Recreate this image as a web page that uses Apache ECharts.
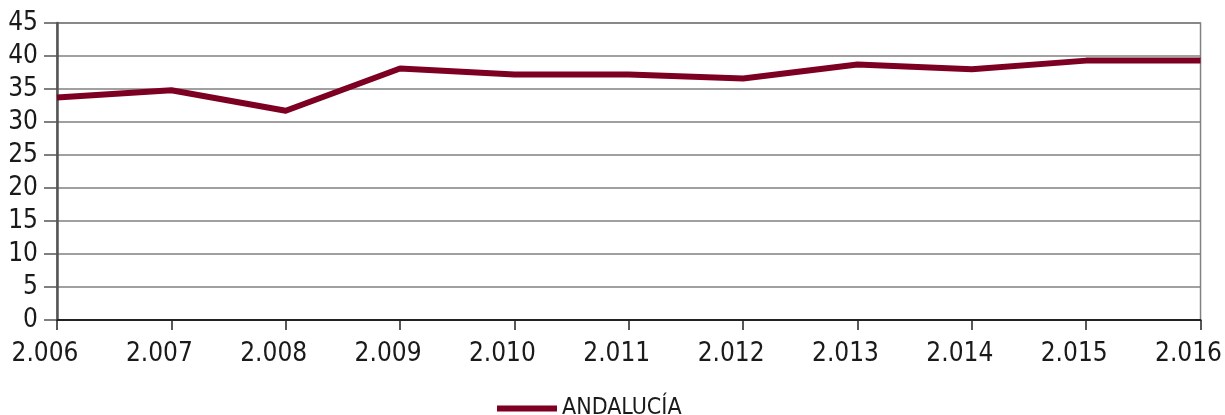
<!DOCTYPE html>
<html>
<head>
<meta charset="utf-8">
<script src="https://cdn.jsdelivr.net/npm/echarts@6/dist/echarts.min.js"></script>
<style>
  html, body { margin: 0; padding: 0; background: #ffffff; }
  #chart { width: 1225px; height: 415px; }
</style>
</head>
<body>
<div id="chart"></div>
<script>
// Years on the horizontal axis (Spanish thousands separator)
const years = ['2.006', '2.007', '2.008', '2.009', '2.010', '2.011', '2.012', '2.013', '2.014', '2.015', '2.016'];
// Series values for Andalucía
const andalucia = [33.7, 34.8, 31.7, 38.1, 37.2, 37.2, 36.6, 38.7, 38.0, 39.3, 39.3];
const seriesName = 'ANDALUCÍA';
// Value axis range
const yMin = 0, yMax = 45, yStep = 5;

const FONT = '"Liberation Sans Narrow", "DejaVu Sans Condensed", "Liberation Sans", sans-serif';

const chart = echarts.init(document.getElementById('chart'), null, { renderer: 'canvas' });
chart.setOption({
  animation: false,
  backgroundColor: '#ffffff',
  grid: {
    left: 57, right: 19, top: 23, bottom: 95,
    show: true, borderColor: '#808080', borderWidth: 1.5
  },
  xAxis: {
    type: 'category',
    data: years,
    boundaryGap: false,
    axisLine: { show: true, lineStyle: { color: '#222222', width: 2 } },
    axisTick: { show: true, length: 10, lineStyle: { color: '#222222', width: 1.5 } },
    axisLabel: {
      color: '#1a1a1a', fontFamily: FONT, fontSize: 26, margin: 21,
      padding: [0, 24, 0, 0], interval: 0
    },
    splitLine: { show: false }
  },
  yAxis: {
    type: 'value',
    min: yMin, max: yMax, interval: yStep,
    axisLine: { show: true, lineStyle: { color: '#555555', width: 2.5 } },
    axisTick: { show: true, length: 13, lineStyle: { color: '#555555', width: 1.5 } },
    axisLabel: { color: '#1a1a1a', fontFamily: FONT, fontSize: 26, margin: 19 },
    splitLine: { show: true, lineStyle: { color: '#808080', width: 1.5 } }
  },
  legend: {
    data: [seriesName],
    left: 492, top: 392,
    icon: 'rect', itemWidth: 60, itemHeight: 6, itemGap: 10,
    textStyle: { color: '#1a1a1a', fontFamily: FONT, fontSize: 23 }
  },
  series: [{
    name: seriesName,
    type: 'line',
    data: andalucia,
    symbol: 'none',
    lineStyle: { color: '#7d0022', width: 6, join: 'round' },
    itemStyle: { color: '#7d0022' }
  }]
});
</script>
</body>
</html>
